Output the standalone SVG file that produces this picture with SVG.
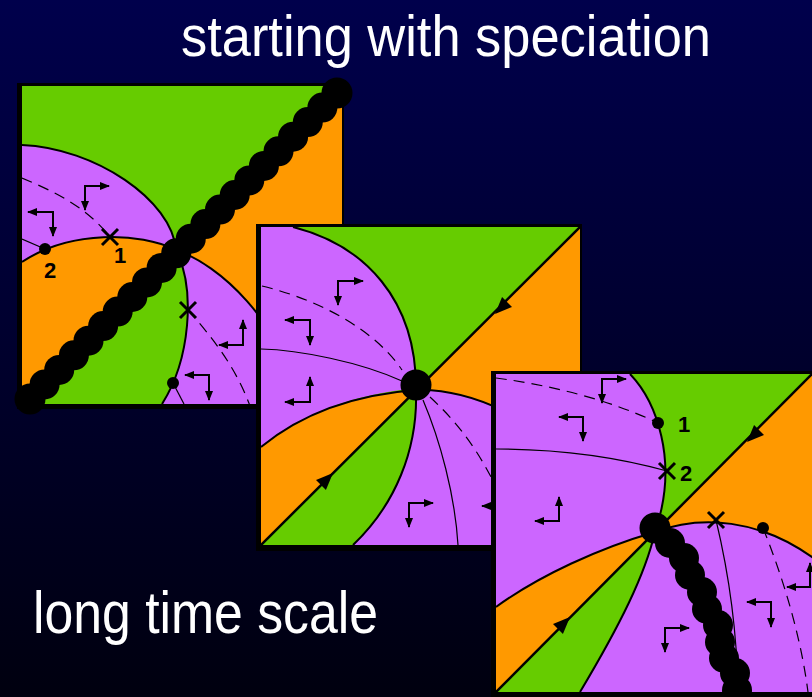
<svg xmlns="http://www.w3.org/2000/svg" xmlns:xlink="http://www.w3.org/1999/xlink" width="812" height="697" viewBox="0 0 812 697">
<style>
.gr{fill:#66cc00}
.or{fill:#ff9900}
.pu{fill:#cc66ff}
.bd{fill:none;stroke:#000;stroke-width:2}
.dg{fill:none;stroke:#000;stroke-width:2.5}
.th{fill:none;stroke:#000;stroke-width:1.2}
.da{fill:none;stroke:#000;stroke-width:1.2;stroke-dasharray:11 7}
.g{fill:none;stroke:#000;stroke-width:2;marker-start:url(#ah);marker-end:url(#ah)}
.x{fill:none;stroke:#000;stroke-width:3}
.lb{font-family:"Liberation Sans",Arial,sans-serif;font-weight:bold;font-size:22px;fill:#000;text-anchor:middle}
.tt{font-family:"Liberation Sans",Arial,sans-serif;fill:#fff}
</style>
<defs>
<linearGradient id="bg" x1="0" y1="0" x2="0" y2="1">
<stop offset="0" stop-color="#00004c"/>
<stop offset="1" stop-color="#00000f"/>
</linearGradient>
<marker id="ah" viewBox="0 0 10 8" refX="9" refY="4" markerWidth="10" markerHeight="8" markerUnits="userSpaceOnUse" orient="auto-start-reverse"><path d="M0,0 L10,4 L0,8 Z" fill="#000"/></marker>
<path id="darr" d="M0,0 L-17,-7 L-17,7 Z" fill="#000"/>
<clipPath id="c1"><rect x="22" y="86" width="320" height="318"/></clipPath>
<clipPath id="c2"><rect x="261" y="227" width="319" height="318"/></clipPath>
<clipPath id="c3"><rect x="496" y="374" width="320" height="318"/></clipPath>
</defs>
<rect width="812" height="697" fill="url(#bg)"/>
<text class="tt" x="181" y="56" font-size="58" textLength="530" lengthAdjust="spacingAndGlyphs">starting with speciation</text>
<text class="tt" x="33" y="633" font-size="60" textLength="345" lengthAdjust="spacingAndGlyphs">long time scale</text>

<g id="panel1">
<rect x="17" y="83" width="327" height="326" fill="#000"/>
<g clip-path="url(#c1)">
<rect class="gr" x="22" y="86" width="320" height="318"/>
<path class="or" d="M176,250 C140,232 70,230 22,262 L22,404 Z"/>
<path class="or" d="M176,250 L342,86 L342,404 L300,404 C280,320 220,265 176,250 Z"/>
<path class="pu" d="M22,145 C95,148 172,200 176,250 C140,232 70,230 22,262 Z"/>
<path class="pu" d="M176,250 C220,265 280,320 300,404 L162,404 C190,360 196,290 176,250 Z"/>
<path class="bd" d="M22,145 C95,148 172,200 176,250"/>
<path class="bd" d="M176,250 C140,232 70,230 22,262"/>
<path class="bd" d="M176,250 C196,290 190,360 162,404"/>
<path class="bd" d="M176,250 C220,265 280,320 300,404"/>
<path class="th" d="M173,383 L184,404"/>
<path class="th" d="M22,239 L45,249"/>
<path class="da" d="M22,178 C50,190 85,205 110,237"/>
<path class="da" d="M188,310 C210,335 235,365 250,406"/>
<circle cx="45" cy="249" r="6"/>
<circle cx="173" cy="383" r="6"/>
<path class="x" d="M102,229 L118,245 M118,229 L102,245"/>
<path class="x" d="M180,302 L196,318 M196,302 L180,318"/>
<text class="lb" x="120" y="263">1</text>
<text class="lb" x="50" y="278">2</text>
<path class="g" d="M109,186 L85,186 L85,210"/>
<path class="g" d="M28,212 L53,212 L53,236"/>
<path class="g" d="M243,320 L243,345 L219,345"/>
<path class="g" d="M185,375 L209,375 L209,400"/>
</g>
<g id="chain1">
<circle cx="30" cy="399" r="15.5"/><circle cx="44.6" cy="384.4" r="15"/><circle cx="59.2" cy="369.9" r="15"/><circle cx="73.9" cy="355.3" r="15"/><circle cx="88.5" cy="340.7" r="15"/><circle cx="103.1" cy="326.1" r="15"/><circle cx="117.7" cy="311.6" r="15"/><circle cx="132.3" cy="297" r="15"/><circle cx="147" cy="282.4" r="15"/><circle cx="161.6" cy="267.9" r="15"/><circle cx="176.2" cy="253.3" r="15"/><circle cx="190.8" cy="238.7" r="15"/><circle cx="205.4" cy="224.1" r="15"/><circle cx="220" cy="209.6" r="15"/><circle cx="234.7" cy="195" r="15"/><circle cx="249.3" cy="180.4" r="15"/><circle cx="263.9" cy="165.9" r="15"/><circle cx="278.5" cy="151.3" r="15"/><circle cx="293.1" cy="136.7" r="15"/><circle cx="307.8" cy="122.1" r="15"/><circle cx="322.4" cy="107.6" r="15"/><circle cx="337" cy="93" r="15.5"/>
</g>
</g>

<g id="panel2">
<rect x="256" y="224" width="326" height="327" fill="#000"/>
<g clip-path="url(#c2)">
<rect class="gr" x="261" y="227" width="319" height="318"/>
<path class="or" d="M416,390 C350,395 300,415 261,447 L261,545 Z"/>
<path class="or" d="M416,390 L580,227 L580,470 C540,420 470,388 416,390 Z"/>
<path class="pu" d="M293,227 C365,245 416,300 416,388 C350,395 300,415 261,447 L261,227 Z"/>
<path class="pu" d="M416,390 C470,388 540,420 580,470 L580,545 L353,545 C395,505 418,450 416,390 Z"/>
<path class="bd" d="M293,227 C365,245 416,300 416,388"/>
<path class="bd" d="M416,390 C350,395 300,415 261,447"/>
<path class="bd" d="M416,390 C418,450 395,505 353,545"/>
<path class="bd" d="M416,390 C470,388 540,420 580,470"/>
<path class="dg" d="M261,545 L580,227"/>
<path class="da" d="M262,286 C320,300 375,330 402,370"/>
<path class="th" d="M261,349 C300,350 360,362 402,381"/>
<path class="da" d="M430,397 C460,425 490,460 520,545"/>
<path class="th" d="M423,400 C440,440 455,495 458,545"/>
<circle cx="416" cy="385" r="15.5"/>
<use xlink:href="#darr" href="#darr" transform="translate(495,314) rotate(135)"/>
<use xlink:href="#darr" href="#darr" transform="translate(333,473) rotate(-45)"/>
<path class="g" d="M363,281 L338,281 L338,305"/>
<path class="g" d="M285,320 L310,320 L310,345"/>
<path class="g" d="M310,377 L310,402 L285,402"/>
<path class="g" d="M433,503 L409,503 L409,527"/>
<path class="g" d="M482,506 L506,506 L506,530"/>
</g>
</g>

<g id="panel3">
<rect x="491" y="371" width="330" height="330" fill="#000"/>
<g clip-path="url(#c3)">
<rect class="gr" x="496" y="374" width="320" height="318"/>
<path class="or" d="M655,532 C600,548 540,575 496,607 L496,692 Z"/>
<path class="or" d="M655,532 L816,370 L816,560 C760,518 700,515 655,532 Z"/>
<path class="pu" d="M630,374 C655,400 680,460 655,532 C600,548 540,575 496,607 L496,374 Z"/>
<path class="pu" d="M655,532 C700,515 760,518 816,560 L816,692 L580,692 C620,625 645,575 655,532 Z"/>
<path class="bd" d="M630,374 C655,400 680,460 655,532"/>
<path class="bd" d="M655,532 C600,548 540,575 496,607"/>
<path class="bd" d="M655,532 C645,575 620,625 580,692"/>
<path class="bd" d="M655,532 C700,515 760,518 816,560"/>
<path class="dg" d="M496,692 L816,370"/>
<path class="da" d="M496,378 C550,385 610,400 658,423"/>
<path class="th" d="M496,449 C560,449 620,458 667,471"/>
<path class="th" d="M716,520 C728,570 737,630 738,692"/>
<path class="da" d="M763,528 C780,570 800,630 808,692"/>
<circle cx="658" cy="423" r="6"/>
<circle cx="763" cy="528" r="6"/>
<path class="x" d="M659,463 L675,479 M675,463 L659,479"/>
<path class="x" d="M708,512 L724,528 M724,512 L708,528"/>
<text class="lb" x="684" y="432">1</text>
<text class="lb" x="686" y="481">2</text>
<use xlink:href="#darr" href="#darr" transform="translate(747,442) rotate(135)"/>
<use xlink:href="#darr" href="#darr" transform="translate(570,617) rotate(-45)"/>
<path class="g" d="M626,379 L602,379 L602,403"/>
<path class="g" d="M559,417 L583,417 L583,441"/>
<path class="g" d="M559,497 L559,521 L535,521"/>
<path class="g" d="M689,628 L665,628 L665,652"/>
<path class="g" d="M747,602 L771,602 L771,627"/>
<path class="g" d="M810,563 L810,587 L787,587"/>
<g id="chain3">
<circle cx="655" cy="528" r="15.5"/><circle cx="670" cy="543" r="15"/><circle cx="684" cy="558" r="15"/><circle cx="690" cy="575" r="15"/><circle cx="702" cy="592" r="15"/><circle cx="707" cy="609" r="15"/><circle cx="718" cy="625" r="15"/><circle cx="720" cy="642" r="15"/><circle cx="724" cy="658" r="15"/><circle cx="735" cy="673" r="15"/><circle cx="737" cy="690" r="15"/>
</g>
</g>
</g>
</svg>
